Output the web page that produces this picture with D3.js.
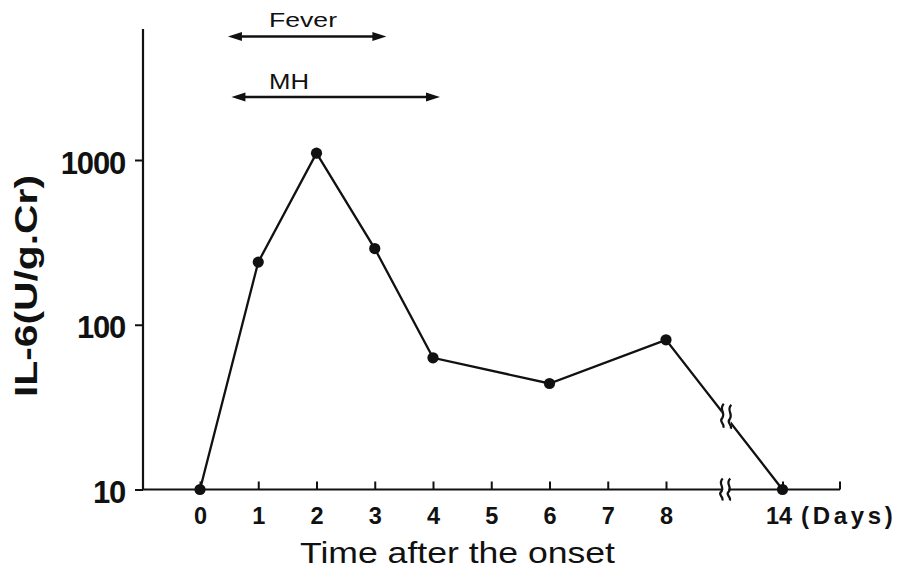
<!DOCTYPE html>
<html>
<head>
<meta charset="utf-8">
<script src="https://cdn.jsdelivr.net/npm/d3@7"></script>
<style>
  html, body { margin: 0; padding: 0; background: #fff; }
  svg { display: block; }
  text { font-family: "Liberation Sans", Arial, Helvetica, sans-serif; fill: #111; }
</style>
</head>
<body>
<svg id="chart" width="899" height="568"></svg>
<script>
// Urinary IL-6 over the days after onset
const days = [0, 1, 2, 3, 4, 6, 8, 14];
const il6 = [10, 240, 1100, 290, 63, 44, 81, 10];

const yTicks = [10, 100, 1000];
const xTicks = [0, 1, 2, 3, 4, 5, 6, 7, 8, 14];

// Clinical periods shown as double-headed arrows (in days)
const periodNames = ["Fever", "MH"];
const periodStart = [0.48, 0.54];
const periodEnd = [3.2, 4.12];

const svg = d3.select("#chart");
const ink = "#111";

const plotLeft = 143, plotRight = 840, plotTop = 29, plotBase = 489.5;

// Days 0-8 evenly spaced, then a compressed gap up to day 14
const x = d3.scaleLinear().domain([0, 8, 14]).range([200, 666, 782.5]);
const y = d3.scaleLog().domain([10, 1000]).range([plotBase, 160]);

// Axis lines
svg.append("line").attr("x1", plotLeft).attr("x2", plotLeft).attr("y1", plotTop).attr("y2", plotBase)
  .attr("stroke", ink).attr("stroke-width", 2.2);
svg.append("line").attr("x1", plotLeft).attr("x2", plotRight).attr("y1", plotBase).attr("y2", plotBase)
  .attr("stroke", ink).attr("stroke-width", 2.2);
svg.append("line").attr("x1", plotRight).attr("x2", plotRight).attr("y1", plotBase - 8).attr("y2", plotBase)
  .attr("stroke", ink).attr("stroke-width", 2);

// Y axis (log)
const gy = svg.append("g").attr("transform", `translate(${plotLeft},0)`)
  .call(d3.axisLeft(y).tickValues(yTicks).tickFormat(d3.format("d")).tickSize(8).tickPadding(10));
gy.select(".domain").remove();
gy.selectAll(".tick line").attr("stroke", ink).attr("stroke-width", 2);
gy.selectAll(".tick text")
  .attr("fill", ink).attr("font-size", 31).attr("font-weight", "bold")
  .attr("letter-spacing", -1.2)
  .attr("font-family", "'Liberation Sans', Arial, sans-serif")
  .attr("dy", "0.42em");

// X axis
const gx = svg.append("g").attr("transform", `translate(0,${plotBase})`)
  .call(d3.axisBottom(x).tickValues(xTicks).tickFormat(d3.format("d")).tickSize(-8).tickPadding(18));
gx.select(".domain").remove();
gx.selectAll(".tick line").attr("stroke", ink).attr("stroke-width", 2);
gx.selectAll(".tick text")
  .attr("fill", ink).attr("font-size", 23.5).attr("font-weight", "bold")
  .attr("font-family", "'Liberation Sans', Arial, sans-serif")
  .attr("dx", d => (d === 14 ? -4 : 0));

svg.append("text")
  .attr("x", 801).attr("y", 523.5)
  .attr("font-size", 24).attr("font-weight", "bold")
  .attr("letter-spacing", 3.7)
  .text("(Days)");

// Axis titles
svg.append("text")
  .attr("x", 457.5).attr("y", 563)
  .attr("text-anchor", "middle")
  .attr("font-size", 29)
  .attr("textLength", 315).attr("lengthAdjust", "spacingAndGlyphs")
  .text("Time after the onset");

svg.append("text")
  .attr("transform", "translate(37,286) rotate(-90)")
  .attr("text-anchor", "middle")
  .attr("font-size", 32).attr("font-weight", "bold")
  .attr("textLength", 222).attr("lengthAdjust", "spacingAndGlyphs")
  .text("IL-6(U/g.Cr)");

// Data line and points
const pts = days.map((d, i) => ({ day: d, v: il6[i] }));
svg.append("path")
  .datum(pts)
  .attr("fill", "none").attr("stroke", ink).attr("stroke-width", 2.3)
  .attr("d", d3.line().x(d => x(d.day)).y(d => y(d.v)));

// Break marks: gap in the line between day 8 and day 14, and on the x axis
function squiggle(cx, cy, h) {
  const p = d3.path();
  p.moveTo(cx + 1.5, cy - h / 2);
  p.bezierCurveTo(cx - 4, cy - h / 4, cx + 4, cy - h / 8, cx, cy + h / 10);
  p.bezierCurveTo(cx - 4, cy + h / 4, cx + 3, cy + h / 3, cx + 1, cy + h / 2);
  return p.toString();
}
const breakX = (x(8) + x(14)) / 2 + 2;
const breakY = (y(81) + y(10)) / 2 + 1;
svg.append("rect").attr("x", breakX - 4.5).attr("y", breakY - 16).attr("width", 9).attr("height", 32).attr("fill", "#fff");
svg.append("path").attr("d", squiggle(breakX - 4, breakY, 24)).attr("fill", "none").attr("stroke", ink).attr("stroke-width", 2.2);
svg.append("path").attr("d", squiggle(breakX + 3.5, breakY + 1, 24)).attr("fill", "none").attr("stroke", ink).attr("stroke-width", 2.2);

const axBreakX = breakX - 1;
svg.append("rect").attr("x", axBreakX - 3).attr("y", plotBase - 4).attr("width", 6).attr("height", 8).attr("fill", "#fff");
svg.append("path").attr("d", squiggle(axBreakX - 4, plotBase, 22)).attr("fill", "none").attr("stroke", ink).attr("stroke-width", 2.2);
svg.append("path").attr("d", squiggle(axBreakX + 3.5, plotBase, 22)).attr("fill", "none").attr("stroke", ink).attr("stroke-width", 2.2);

svg.append("g").selectAll("circle")
  .data(pts).join("circle")
  .attr("cx", d => x(d.day)).attr("cy", d => y(d.v))
  .attr("r", 5.6).attr("fill", ink);

// Period arrows
const arrowY = [36.5, 97];
const labelY = [27, 88.5];
function head(xTip, yy, dir) {
  const L = 14, W = 4.5;
  return `M${xTip},${yy} L${xTip - dir * L},${yy - W} L${xTip - dir * L},${yy + W} Z`;
}
periodNames.forEach((name, i) => {
  const x1 = x(periodStart[i]), x2 = x(periodEnd[i]), yy = arrowY[i];
  svg.append("line").attr("x1", x1 + 6).attr("x2", x2 - 6).attr("y1", yy).attr("y2", yy)
    .attr("stroke", ink).attr("stroke-width", 2.6);
  svg.append("path").attr("d", head(x1, yy, -1)).attr("fill", ink);
  svg.append("path").attr("d", head(x2, yy, 1)).attr("fill", ink);
  svg.append("text")
    .attr("x", 269).attr("y", labelY[i])
    .attr("font-size", i === 0 ? 20 : 22)
    .attr("textLength", i === 0 ? 68 : 40).attr("lengthAdjust", "spacingAndGlyphs")
    .text(name);
});
</script>
</body>
</html>
